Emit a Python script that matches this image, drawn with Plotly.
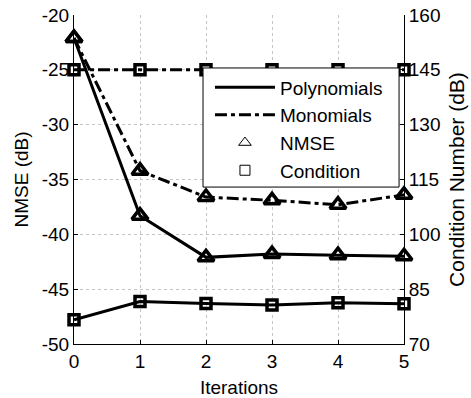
import plotly.graph_objects as go

# Iterations of the identification procedure
iterations = [0, 1, 2, 3, 4, 5]

# NMSE (dB), left axis
nmse_poly = [-22.1, -38.3, -42.1, -41.8, -41.9, -42.0]
nmse_mono = [-22.1, -34.2, -36.6, -36.9, -37.3, -36.4]

# Condition number (dB), right axis
cond_poly = [76.6, 81.6, 81.1, 80.7, 81.3, 81.0]
cond_mono = [145, 145, 145, 145, 145, 145]

left_ticks = [-50, -45, -40, -35, -30, -25, -20]
left_labels = ["-50", "-45", "-40", "-35", "-30", "-25", "-20"]
right_ticks = [70, 85, 100, 115, 130, 145, 160]
right_labels = ["70", "85", "100", "115", "130", "145", "160"]
x_labels = ["0", "1", "2", "3", "4", "5"]

FONT = "Liberation Sans, Arial, sans-serif"
DASHDOT = "12px,4px,4px,4px"
GRID = "#c4c4c4"

fig = go.Figure()

def add_series(y, dash, symbol, msize, axis):
    fig.add_trace(go.Scatter(
        x=iterations, y=y, mode="lines+markers", yaxis=axis,
        line=dict(color="black", width=3, dash=dash),
        marker=dict(symbol=symbol, size=msize, color="black",
                    line=dict(color="black", width=3.5)),
        showlegend=False, cliponaxis=False,
    ))

add_series(nmse_poly, "solid", "triangle-up-open", 14, "y")
add_series(nmse_mono, DASHDOT, "triangle-up-open", 14, "y")
add_series(cond_poly, "solid", "square-open", 10, "y2")
add_series(cond_mono, DASHDOT, "square-open", 10, "y2")

# legend entries: line styles for the basis type, markers for the metric
fig.add_trace(go.Scatter(x=[None], y=[None], mode="lines", name="Polynomials",
                         line=dict(color="black", width=3)))
fig.add_trace(go.Scatter(x=[None], y=[None], mode="lines", name="Monomials",
                         line=dict(color="black", width=3, dash=DASHDOT)))
fig.add_trace(go.Scatter(x=[None], y=[None], mode="markers", name="NMSE",
                         marker=dict(symbol="triangle-up-open", size=11, color="black",
                                     line=dict(color="black", width=1))))
fig.add_trace(go.Scatter(x=[None], y=[None], mode="markers", name="Condition",
                         marker=dict(symbol="square-open", size=10, color="black",
                                     line=dict(color="black", width=1))))

# legend frame
fig.add_shape(type="rect", xref="paper", yref="paper",
              x0=0.391, x1=0.985, y0=0.477, y1=0.839,
              line=dict(color="black", width=1), fillcolor="white", layer="above")

axis_common = dict(
    ticks="inside", ticklen=4, tickcolor="black",
    showline=True, linecolor="black", linewidth=1, zeroline=False,
    tickfont=dict(size=19), automargin=False,
)

fig.update_layout(
    width=471, height=398,
    margin=dict(l=74, r=67, t=15, b=54),
    paper_bgcolor="white", plot_bgcolor="white",
    font=dict(family=FONT, size=19, color="black"),
    showlegend=True,
    legend=dict(x=0.412, y=0.838, xanchor="left", yanchor="top",
                bgcolor="rgba(0,0,0,0)", borderwidth=0, itemwidth=60,
                tracegroupgap=0,
                font=dict(family=FONT, size=19, color="black")),
    xaxis=dict(
        range=[0, 5], tickvals=iterations, ticktext=x_labels,
        showgrid=True, gridcolor=GRID, griddash="dot", gridwidth=1,
        ticklabelstandoff=0,
        title=dict(text="Iterations", standoff=9, font=dict(size=19)),
        **axis_common,
    ),
    yaxis=dict(
        range=[-50, -20], tickvals=left_ticks, ticktext=left_labels,
        showgrid=True, gridcolor=GRID, griddash="dot", gridwidth=1,
        title=dict(text="NMSE (dB)", standoff=8, font=dict(size=19)),
        **axis_common,
    ),
    yaxis2=dict(
        range=[70, 160], tickvals=right_ticks, ticktext=right_labels,
        overlaying="y", side="right", showgrid=False,
        title=dict(text="Condition Number (dB)", standoff=9,
                   font=dict(size=21)),
        **axis_common,
    ),
)

fig.write_html("out.html")
